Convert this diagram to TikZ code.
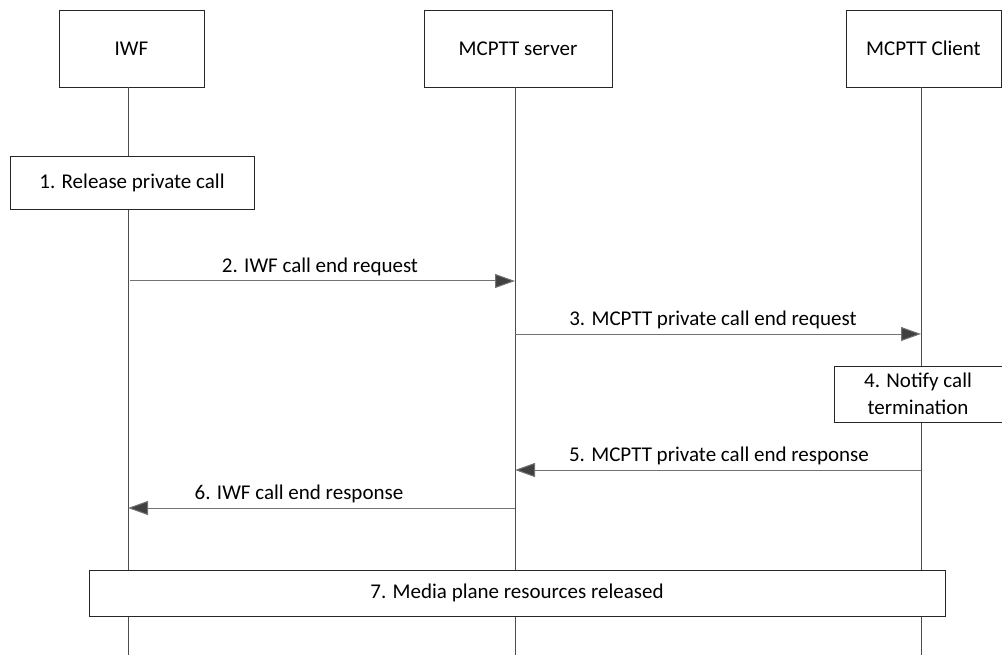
\documentclass[tikz,border=0pt]{standalone}
\usepackage{fontspec}
\setmainfont{Carlito}
\usetikzlibrary{arrows.meta}
\begin{document}
\begin{tikzpicture}[x=1pt,y=-1pt,
  font=\fontsize{21}{24}\selectfont,
  box/.style={draw=black!85,line width=0.8pt,fill=white,inner sep=0pt},
  life/.style={draw=black!70,line width=0.9pt},
  msg/.style={draw=black!55,line width=1pt,-{Triangle[length=20pt,width=14pt,fill=black!75]}},
  lbl/.style={inner sep=0pt,anchor=base}]
\useasboundingbox (0,0) rectangle (1002,655);
% participant boxes
\node[box,minimum width=145pt,minimum height=77pt] (iwf) at (131.5,48.5) {IWF};
\node[box,minimum width=188pt,minimum height=77pt] (srv) at (518,48.5) {MCPTT server};
\node[box,minimum width=155pt,minimum height=77pt] (cli) at (923.5,48.5) {MCPTT Client};
% lifeline ends
\coordinate (iwfE) at (128,655);
\coordinate (srvE) at (515,655);
\coordinate (cliE) at (921,655);
\draw[life] (iwf.south -| iwfE) -- (iwfE);
\draw[life] (srv.south -| srvE) -- (srvE);
\draw[life] (cli.south -| cliE) -- (cliE);
% step boxes
\node[box,minimum width=244pt,minimum height=53pt] (s1) at (132,182.5) {1. Release private call};
\node[box,minimum width=168pt,minimum height=56pt,align=center,font=\fontsize{21}{27}\selectfont] (s4) at (918,394) {4. Notify call\\termination};
\node[box,minimum width=856pt,minimum height=46pt] (s7) at (517,593) {7. Media plane resources released};
% message coordinates
\coordinate (a2s) at (130,281); \coordinate (a2e) at (515,281);
\coordinate (a3s) at (515,334); \coordinate (a3e) at (921,334);
\coordinate (a5s) at (921,470); \coordinate (a5e) at (515,470);
\coordinate (a6s) at (515,508); \coordinate (a6e) at (128,508);
\draw[msg] (a2s) -- (a2e);
\draw[msg] (a3s) -- (a3e);
\draw[msg] (a5s) -- (a5e);
\draw[msg] (a6s) -- (a6e);
\node[lbl] (l2) at (320,273) {2. IWF call end request};
\node[lbl] (l3) at (713,326) {3. MCPTT private call end request};
\node[lbl] (l5) at (719,461) {5. MCPTT private call end response};
\node[lbl] (l6) at (299,499) {6. IWF call end response};
\end{tikzpicture}
\end{document}
